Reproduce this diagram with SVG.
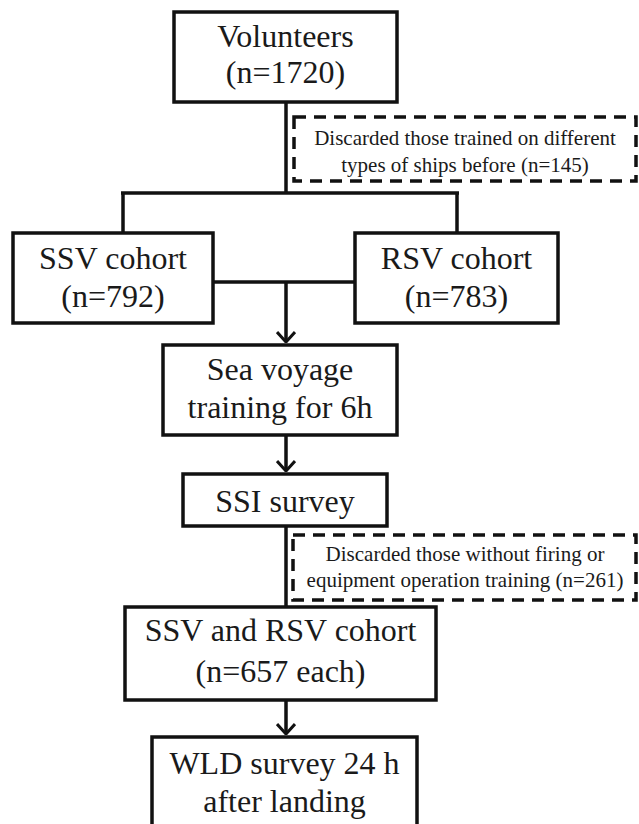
<svg xmlns="http://www.w3.org/2000/svg" width="639" height="824" viewBox="0 0 639 824" font-family="'Liberation Serif', 'DejaVu Serif', serif">
<style>
.box{fill:#fff;stroke:#111;stroke-width:3.5}
.dash{fill:#fff;stroke:#111;stroke-width:3.5;stroke-dasharray:12 8}
text{font-family:'Liberation Serif','DejaVu Serif',serif}
.t{font-size:32px;fill:#1a1a1a;text-anchor:middle}
.s{font-size:21px;fill:#1a1a1a;text-anchor:middle}
.ln{fill:none;stroke:#111;stroke-width:3.5}
</style>
<defs>
<marker id="arr" viewBox="0 0 12 20" refX="11" refY="10" markerWidth="12" markerHeight="20" markerUnits="userSpaceOnUse" orient="auto">
<path d="M1,1 L11,10 L1,19" fill="none" stroke="#111" stroke-width="3"/>
</marker>
</defs>
<rect width="639" height="824" fill="#fff"/>
<g id="connectors">
<line class="ln" x1="286" y1="102" x2="286" y2="193"/>
<line class="ln" x1="121" y1="193" x2="459" y2="193"/>
<line class="ln" x1="123" y1="193" x2="123" y2="233"/>
<line class="ln" x1="457" y1="193" x2="457" y2="233"/>
<line class="ln" x1="213" y1="282" x2="355" y2="282"/>
<line class="ln" x1="286" y1="282" x2="286" y2="342" marker-end="url(#arr)"/>
<line class="ln" x1="286" y1="435" x2="286" y2="471" marker-end="url(#arr)"/>
<line class="ln" x1="286" y1="526" x2="286" y2="607"/>
<line class="ln" x1="286" y1="700" x2="286" y2="734" marker-end="url(#arr)"/>
</g>
<g id="volunteers">
<rect class="box" x="174" y="12" width="223" height="90"/>
<text class="t" x="285.5" y="47" font-family="Liberation Serif">Volunteers</text>
<text class="t" x="285.5" y="83" font-family="Liberation Serif">(n=1720)</text>
</g>
<g id="discard1">
<rect class="dash" x="294" y="117" width="342" height="64"/>
<text class="s" x="465" y="145" font-family="Liberation Serif">Discarded those trained on different</text>
<text class="s" x="465" y="172" font-family="Liberation Serif">types of ships before (n=145)</text>
</g>
<g id="ssv">
<rect class="box" x="13" y="233" width="200" height="90"/>
<text class="t" x="113" y="269" font-family="Liberation Serif">SSV cohort</text>
<text class="t" x="113" y="307" font-family="Liberation Serif">(n=792)</text>
</g>
<g id="rsv">
<rect class="box" x="355" y="233" width="203" height="90"/>
<text class="t" x="456.5" y="269" font-family="Liberation Serif">RSV cohort</text>
<text class="t" x="456.5" y="307" font-family="Liberation Serif">(n=783)</text>
</g>
<g id="seavoyage">
<rect class="box" x="163" y="345" width="234" height="90"/>
<text class="t" x="280" y="380" font-family="Liberation Serif">Sea voyage</text>
<text class="t" x="280" y="418" font-family="Liberation Serif">training for 6h</text>
</g>
<g id="ssi">
<rect class="box" x="183" y="474" width="204" height="52"/>
<text class="t" x="285" y="512" font-family="Liberation Serif">SSI survey</text>
</g>
<g id="discard2">
<rect class="dash" x="293" y="535" width="343" height="65"/>
<text class="s" x="465" y="561" font-family="Liberation Serif">Discarded those without firing or</text>
<text class="s" x="465" y="587" font-family="Liberation Serif">equipment operation training (n=261)</text>
</g>
<g id="cohort">
<rect class="box" x="125" y="607" width="311" height="93"/>
<text class="t" x="280.5" y="641" font-family="Liberation Serif">SSV and RSV cohort</text>
<text class="t" x="280.5" y="682" font-family="Liberation Serif">(n=657 each)</text>
</g>
<g id="wld">
<rect class="box" x="152" y="737" width="265" height="100"/>
<text class="t" x="284.5" y="774" font-family="Liberation Serif">WLD survey 24 h</text>
<text class="t" x="284.5" y="812" font-family="Liberation Serif">after landing</text>
</g>
</svg>
